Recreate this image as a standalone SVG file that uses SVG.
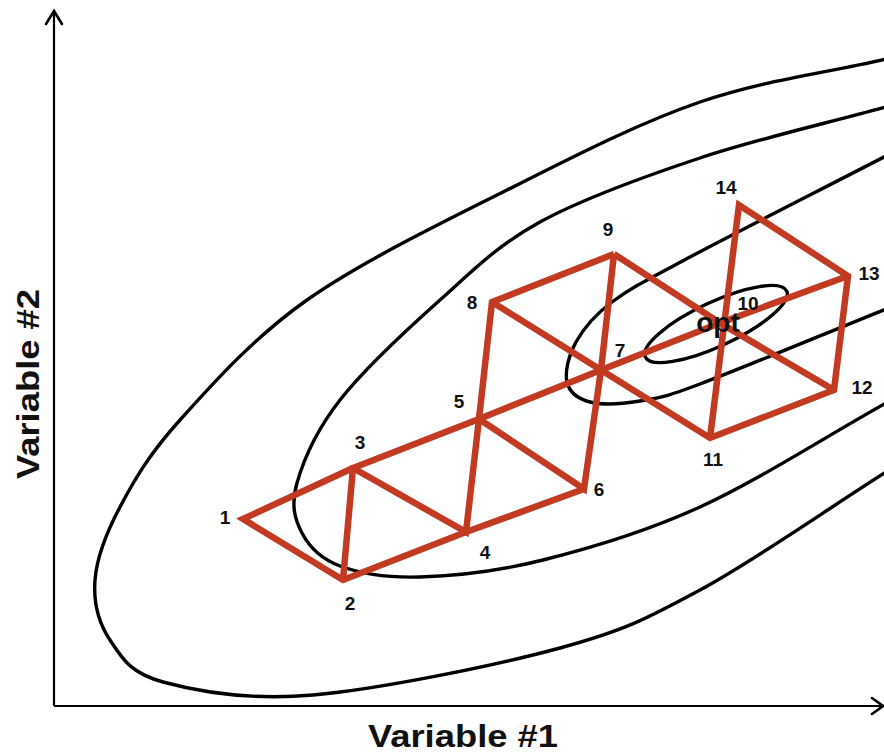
<svg xmlns="http://www.w3.org/2000/svg" width="884" height="753" viewBox="0 0 884 753">
<style>
.contour{fill:none;stroke:#000;stroke-width:3.4}
.axis{fill:none;stroke:#000;stroke-width:2.2}
.head{fill:none;stroke:#000;stroke-width:2.6;stroke-linecap:round;stroke-linejoin:miter}
.edge{fill:none;stroke:#c23a22;stroke-width:6.5;stroke-linejoin:miter}
.lbl{font-family:"Liberation Sans",Arial,sans-serif;font-weight:bold;font-size:19px;fill:#111;text-anchor:middle}
.opt{font-family:"Liberation Sans",Arial,sans-serif;font-weight:bold;font-size:28px;fill:#111;text-anchor:middle}
.ax{font-family:"Liberation Sans",Arial,sans-serif;font-weight:bold;font-size:31px;fill:#111;text-anchor:middle}
</style>
<rect width="884" height="753" fill="#fff"/>
<g id="axes">
<line class="axis" x1="54" y1="12" x2="54" y2="706"/>
<line class="axis" x1="54" y1="706" x2="882" y2="706"/>
<polyline class="head" points="46,24 54,11 62,24"/>
<polyline class="head" points="872,698 883,706 872,714"/>
</g>
<g id="contours">
<path id="c4" class="contour" d="M886,59 C824,73.3 763.2,80.2 700,102 C636.8,123.8 572.5,157 507,190 C441.5,223 361.5,261.7 307,300 C252.5,338.3 211.2,385.5 180,420 C148.8,454.5 134.2,480.3 120,507 C105.8,533.7 96.7,557.8 95,580 C93.3,602.2 98.7,623 110,640 C121.3,657 129.2,672.8 163,682 C196.8,691.2 246.8,700.7 313,695 C379.2,689.3 495.5,665.5 560,648 C624.5,630.5 645.7,619.3 700,590 C754.3,560.7 824,511.3 886,472"/>
<path id="c3" class="contour" d="M886,107 C824,124 757.7,138.8 700,158 C642.3,177.2 583.3,198.3 540,222 C496.7,245.7 473.3,270.3 440,300 C406.7,329.7 363.8,369.5 340,400 C316.2,430.5 303.3,460.8 297,483 C290.7,505.2 294.8,519.2 302,533 C309.2,546.8 320.3,558.7 340,566 C359.7,573.3 386.2,578 420,577 C453.8,576 496.3,571.7 543,560 C589.7,548.3 642.8,533.2 700,507 C757.2,480.8 824,437.7 886,403"/>
<path id="c2" class="contour" d="M886,156 C820.7,189.7 735.7,232.7 690,257 C644.3,281.3 631,287.8 612,302 C593,316.2 583.5,328.7 576,342 C568.5,355.3 564.7,372 567,382 C569.3,392 577.8,398.8 590,402 C602.2,405.2 621.7,404 640,401 C658.3,398 659,399.3 700,384 C741,368.7 824,334 886,309"/>
<ellipse id="c1" class="contour" cx="716" cy="324" rx="78" ry="22" transform="rotate(-25 716 324)"/>
</g>
<g id="simplex">
<path class="edge" d="M353,468 L243,519 L343,580 L466,532 L584,489"/>
<path class="edge" d="M343,580 L353,468 L479,419 L601,370 L720,323 L848,276"/>
<path class="edge" d="M353,468 L466,532 L479,419 L584,489 L601,370 L614,254"/>
<path class="edge" d="M479,419 L492,302 L614,254"/>
<path class="edge" d="M492,302 L601,370 L710,438 L834,390 L848,276 L739,205 L710,438"/>
<path class="edge" d="M614,254 L720,323 L834,390"/>
</g>
<g id="labels">
<text class="lbl" x="225" y="524">1</text>
<text class="lbl" x="350" y="610">2</text>
<text class="lbl" x="360" y="449">3</text>
<text class="lbl" x="485" y="559">4</text>
<text class="lbl" x="459" y="408">5</text>
<text class="lbl" x="599" y="496">6</text>
<text class="lbl" x="620" y="357">7</text>
<text class="lbl" x="472" y="309">8</text>
<text class="lbl" x="608" y="236">9</text>
<text class="lbl" x="748" y="310">10</text>
<text class="lbl" x="713" y="466">11</text>
<text class="lbl" x="862" y="394">12</text>
<text class="lbl" x="869" y="280">13</text>
<text class="lbl" x="726" y="194">14</text>
<text class="opt" x="718" y="332">opt</text>
</g>
<g id="axis-labels">
<text class="ax" x="463" y="747" textLength="190" lengthAdjust="spacingAndGlyphs">Variable #1</text>
<text class="ax" x="39" y="384" transform="rotate(-90 39 384)" textLength="190" lengthAdjust="spacingAndGlyphs">Variable #2</text>
</g>
</svg>
